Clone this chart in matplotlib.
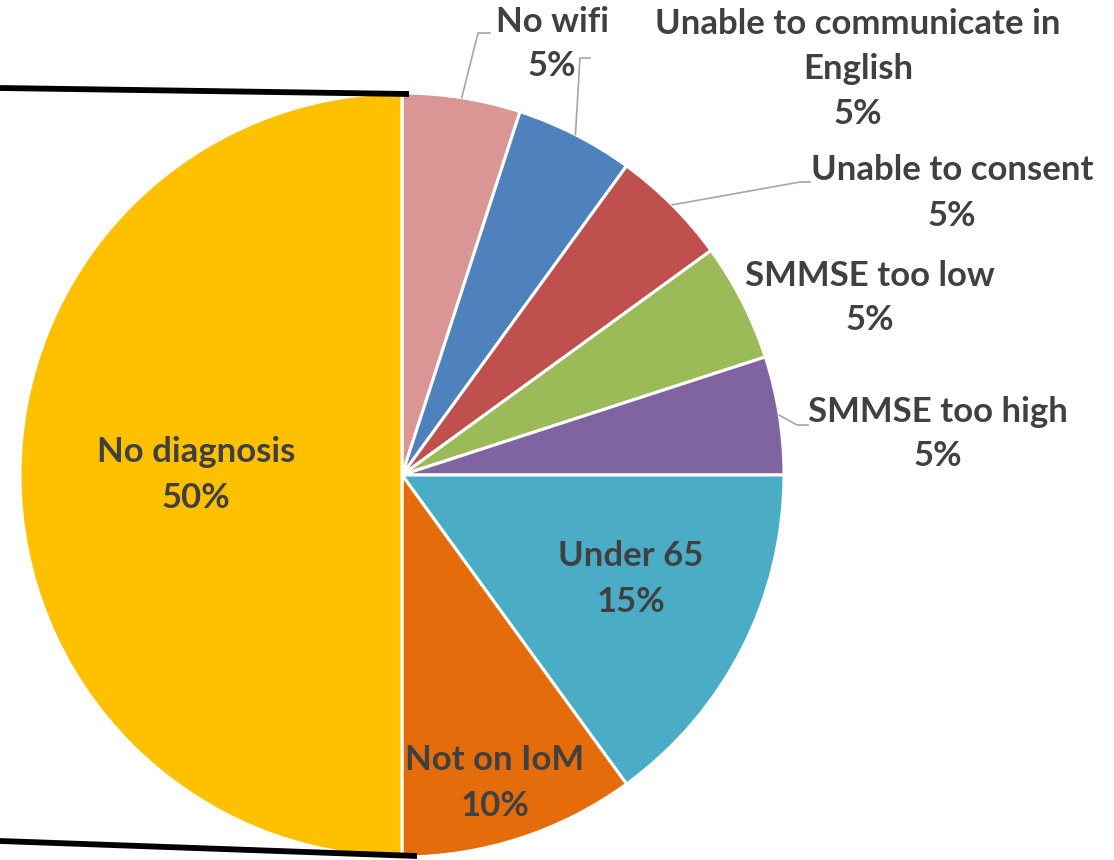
import numpy as np
import matplotlib.pyplot as plt

labels = ["No wifi", "Unable to communicate in\nEnglish", "Unable to consent",
          "SMMSE too low", "SMMSE too high", "Under 65", "Not on IoM", "No diagnosis"]
values = [5, 5, 5, 5, 5, 15, 10, 50]
colors = ["#D99694", "#4F81BD", "#C0504D", "#9BBB59", "#8064A2",
          "#4BACC6", "#E46C0A", "#FFC000"]

# label layout in pixel coords (x, y from top), and leader elbow points
label_pos = [(552, 44), (858, 69), (952, 193), (870, 298), (938, 434),
             (631, 579), (495, 783), (196, 475)]
leaders = {0: [(478, 33), (490, 33)],
           1: [(580, 58), (590, 58)],
           2: [(800, 182), (810, 182)],
           4: [(797, 425), (808, 425)]}

W, H = 1114, 860
cx, cy, r = 402, 475, 382

fig = plt.figure(figsize=(W / 100, H / 100), dpi=100)
ax = fig.add_axes([0, 0, 1, 1])

wedges, _ = ax.pie(values, colors=colors, startangle=90, counterclock=False,
                   center=(cx, H - cy), radius=r, frame=True,
                   wedgeprops=dict(edgecolor="white", linewidth=2.2))
ax.set_xlim(0, W)
ax.set_ylim(0, H)
ax.axis("off")

font = dict(family=["Lato", "DejaVu Sans"], fontweight="bold", color="#404040",
            fontsize=25, ha="center", va="center", linespacing=1.5)

for i, (lab, v) in enumerate(zip(labels, values)):
    x, y = label_pos[i]
    ax.text(x, H - y, f"{lab}\n{v}%", **font)
    if i in leaders:
        w = wedges[i]
        mid = np.deg2rad((w.theta1 + w.theta2) / 2)
        pts = [(cx + r * np.cos(mid), H - cy + r * np.sin(mid))]
        pts += [(px, H - py) for px, py in leaders[i]]
        xs, ys = zip(*pts)
        ax.plot(xs, ys, color="#A6A6A6", lw=1.2)

# black bracket lines cut off at the left
ax.plot([0, 409], [H - 88, H - 94], color="black", lw=4.2, solid_capstyle="butt")
ax.plot([0, 417], [H - 841, H - 856], color="black", lw=4.2, solid_capstyle="butt")

fig.savefig("out.png", dpi=100)
